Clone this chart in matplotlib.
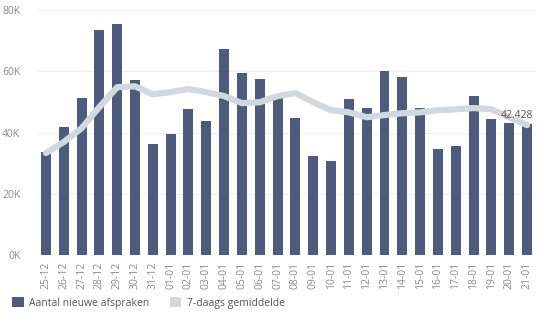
import matplotlib
matplotlib.use("Agg")
import matplotlib.pyplot as plt
from matplotlib.patches import Patch
import numpy as np

dates = ["25-12", "26-12", "27-12", "28-12", "29-12", "30-12", "31-12",
         "01-01", "02-01", "03-01", "04-01", "05-01", "06-01", "07-01",
         "08-01", "09-01", "10-01", "11-01", "12-01", "13-01", "14-01",
         "15-01", "16-01", "17-01", "18-01", "19-01", "20-01", "21-01"]
afspraken = [33600, 41800, 51200, 73400, 75400, 57100, 36200,
             39500, 47600, 43700, 67200, 59400, 57400, 51500,
             44700, 32300, 30700, 50900, 48000, 60000, 58100,
             48000, 34600, 35600, 51900, 44400, 43100, 42700]
gemiddelde = [33300, 36900, 41400, 48300, 54800, 55100, 52500,
              53200, 54200, 53200, 51900, 49600, 49900, 51900,
              52900, 49900, 47300, 46600, 45000, 45700, 46300,
              46600, 47300, 47600, 48000, 47600, 45000, 42428]
yticks = [0, 20000, 40000, 60000, 80000]
ytick_labels = ["0K", "20K", "40K", "60K", "80K"]

plt.rcParams['font.family'] = ['Open Sans', 'DejaVu Sans']

bar_color = "#4e5b7c"
line_color = "#d3d8de"
text_color = "#8a8a8a"

fig = plt.figure(figsize=(5.56, 3.18), dpi=100)
ax = fig.add_axes([0.0665, 0.198, 0.8975, 0.7704])

x = np.arange(len(dates))
ax.bar(x, afspraken, width=0.56, color=bar_color, zorder=2)
ax.plot(x, gemiddelde, color=line_color, lw=4.5, solid_capstyle='round',
        solid_joinstyle='round', zorder=3)
ax.text(x[-1] - 0.55, gemiddelde[-1] + 1400, f"{gemiddelde[-1]:,}".replace(",", "."),
        ha='center', va='bottom', fontsize=7.5, color="#555555", zorder=4)

ax.set_xlim(-0.5, len(dates) - 0.5)
ax.set_ylim(0, 80000)
ax.set_yticks(yticks)
ax.set_yticklabels(ytick_labels, fontsize=7.5, color=text_color)
ax.set_xticks(x)
ax.set_xticklabels(dates, rotation=90, fontsize=7.5, color=text_color)
ax.tick_params(axis='both', length=0)
ax.tick_params(axis='y', pad=12)
ax.tick_params(axis='x', pad=5)
ax.grid(axis='y', color="#f0f0f0", lw=0.8, zorder=0)
for s in ax.spines.values():
    s.set_visible(False)

handles = [Patch(facecolor=bar_color, edgecolor='none'),
           Patch(facecolor=line_color, edgecolor='none')]
fig.legend(handles, ["Aantal nieuwe afspraken", "7-daags gemiddelde"],
           loc='lower left', bbox_to_anchor=(0.005, 0.0), ncol=2, frameon=False,
           fontsize=7.5, labelcolor="#555555", handlelength=1.1, handleheight=1.1,
           handletextpad=0.5, columnspacing=2.0)

fig.savefig("out.png", dpi=100, facecolor="white")
